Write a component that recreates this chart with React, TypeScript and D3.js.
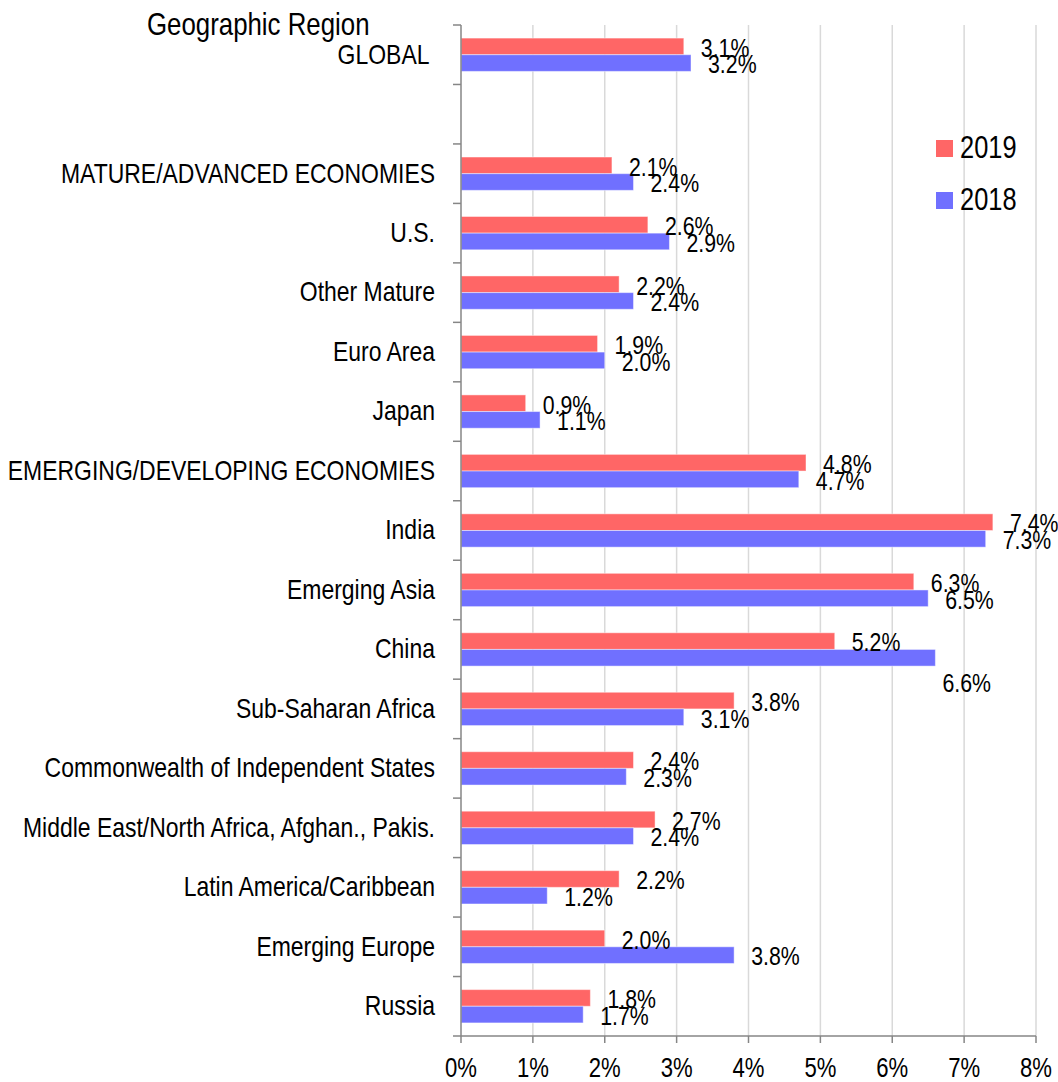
import React from 'react'
import * as d3 from 'd3'

const categories = [
  'GLOBAL ',
  ' ',
  'MATURE/ADVANCED ECONOMIES',
  'U.S.',
  'Other Mature',
  'Euro Area',
  'Japan',
  'EMERGING/DEVELOPING ECONOMIES',
  'India',
  'Emerging Asia',
  'China',
  'Sub-Saharan Africa',
  'Commonwealth of Independent States',
  'Middle East/North Africa, Afghan., Pakis.',
  'Latin America/Caribbean',
  'Emerging Europe',
  'Russia',
]
const values2019 = [3.1, null, 2.1, 2.6, 2.2, 1.9, 0.9, 4.8, 7.4, 6.3, 5.2, 3.8, 2.4, 2.7, 2.2, 2.0, 1.8]
const values2018 = [3.2, null, 2.4, 2.9, 2.4, 2.0, 1.1, 4.7, 7.3, 6.5, 6.6, 3.1, 2.3, 2.4, 1.2, 3.8, 1.7]
const xTicks = [0, 1, 2, 3, 4, 5, 6, 7, 8]
const seriesNames = ['2019', '2018']

const FONT = "'Liberation Sans', Arial, sans-serif"
const NARROW = 0.82 // the original uses a condensed face
const RED = '#FF6666'
const BLUE = '#7070FF'

// text squeezed horizontally to mimic Arial Narrow
function NText({ x, y, children, ...rest }: any) {
  return (
    <text transform={`translate(${x},${y}) scale(${NARROW},1)`} {...rest}>
      {children}
    </text>
  )
}

export default function App() {
  const width = 1058
  const height = 1082
  const [top, bottom, left, right] = [25, 1036, 461, 1036]

  const x = d3.scaleLinear().domain([0, 8]).range([left, right])
  const y = d3.scaleBand<string>().domain(categories.map((_, i) => String(i))).range([top, bottom]).padding(0)
  const bw = y.bandwidth()
  const barH = bw * 0.28

  const series = [
    { name: seriesNames[0], values: values2019, color: RED, off: -barH },
    { name: seriesNames[1], values: values2018, color: BLUE, off: 0 },
  ]

  const bounds = d3.range(categories.length + 1).map(i => top + i * bw)

  return (
    <svg
      width={width}
      height={height}
      style={{ position: 'absolute', left: 0, top: 0, display: 'block', background: '#fff' }}
      fontFamily={FONT}
    >
      {/* gridlines */}
      {xTicks.slice(1).map(t => (
        <line key={t} x1={x(t)} x2={x(t)} y1={top} y2={bottom} stroke="#D9D9D9" strokeWidth={1.5} />
      ))}

      {/* bars */}
      {series.map(s =>
        s.values.map((v, i) => {
          if (v == null) return null
          const cy = (y(String(i)) as number) + bw / 2
          return (
            <rect
              key={s.name + i}
              x={x(0)}
              y={cy + s.off}
              width={x(v) - x(0)}
              height={barH}
              fill={s.color}
              stroke="#ffffff"
              strokeOpacity={0.45}
              strokeWidth={1}
            />
          )
        })
      )}

      {/* axes */}
      <line x1={left} x2={left} y1={top} y2={bottom} stroke="#868686" strokeWidth={1.5} />
      {bounds.map((b, i) => (
        <line key={i} x1={left - 8} x2={left} y1={b} y2={b} stroke="#868686" strokeWidth={1.5} />
      ))}
      <line x1={left} x2={right} y1={bottom} y2={bottom} stroke="#868686" strokeWidth={1.5} />
      {xTicks.map(t => (
        <g key={t}>
          <line x1={x(t)} x2={x(t)} y1={bottom} y2={bottom + 7} stroke="#868686" strokeWidth={1.5} />
          <NText x={x(t)} y={1077} textAnchor="middle" fontSize={27} fill="#000">
            {t}%
          </NText>
        </g>
      ))}

      {/* category labels */}
      {categories.map((c, i) => (
        <NText
          key={i}
          x={435}
          y={(y(String(i)) as number) + bw / 2 - 1}
          textAnchor="end"
          dominantBaseline="central"
          fontSize={28}
          style={{ whiteSpace: 'pre' }}
        >
          {c}
        </NText>
      ))}

      {/* value labels */}
      {series.map(s =>
        s.values.map((v, i) => {
          if (v == null) return null
          const cy = (y(String(i)) as number) + bw / 2 + s.off + barH / 2
          // China 2018 label was dragged below its bar in the original
          const moved = categories[i] === 'China' && s.name === '2018'
          return (
            <NText
              key={'l' + s.name + i}
              x={x(v) + (moved ? 7 : 17)}
              y={cy + 1 + (moved ? 24 : 0)}
              dominantBaseline="central"
              fontSize={26}
            >
              {d3.format('.1f')(v)}%
            </NText>
          )
        })
      )}

      {/* title */}
      <NText x={147} y={35} fontSize={31.5}>
        Geographic Region
      </NText>

      {/* legend */}
      {series.map((s, i) => (
        <g key={s.name} transform={`translate(936, ${140 + i * 52})`}>
          <rect width={17} height={17} fill={s.color} />
          <NText x={24} y={18} fontSize={31}>
            {s.name}
          </NText>
        </g>
      ))}
    </svg>
  )
}
